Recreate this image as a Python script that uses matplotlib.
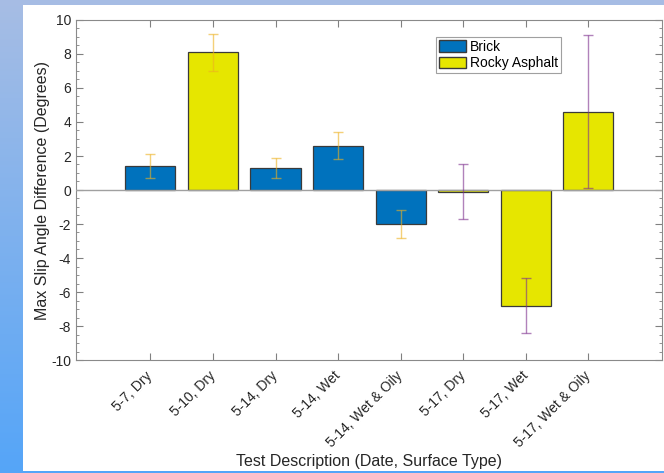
import matplotlib.pyplot as plt
import numpy as np
from matplotlib.patches import Rectangle, Patch
from matplotlib.ticker import MultipleLocator

plt.rcParams['font.family'] = ['Liberation Sans', 'DejaVu Sans']
plt.rcParams['axes.unicode_minus'] = False

# chart data
categories = ['5-7, Dry', '5-10, Dry', '5-14, Dry', '5-14, Wet',
              '5-14, Wet & Oily', '5-17, Dry', '5-17, Wet', '5-17, Wet & Oily']
surfaces = ['Brick', 'Rocky Asphalt', 'Brick', 'Brick',
            'Brick', 'Rocky Asphalt', 'Rocky Asphalt', 'Rocky Asphalt']
values = [1.4, 8.1, 1.3, 2.6, -2.0, -0.1, -6.8, 4.6]
errors = [0.7, 1.1, 0.6, 0.8, 0.8, 1.6, 1.6, 4.5]
err_group = [0, 0, 0, 0, 0, 1, 1, 1]

surface_colors = {'Brick': '#0072BD', 'Rocky Asphalt': '#E6E600'}
err_colors = ['#EDB120', '#7E2F8E']

W, H = 664, 473
fig = plt.figure(figsize=(W / 100, H / 100), dpi=100)

# blue gradient backdrop with white panel
bg = fig.add_axes([0, 0, 1, 1], zorder=-10)
grad = np.linspace(0, 1, 256)[:, None]
top = np.array([0xa7, 0xbd, 0xe4]) / 255
bot = np.array([0x55, 0xa5, 0xf8]) / 255
img = top[None, None, :] * (1 - grad[:, :, None]) + bot[None, None, :] * grad[:, :, None]
bg.imshow(img, aspect='auto', extent=[0, 1, 0, 1], origin='upper')
bg.add_patch(Rectangle((23 / W, (H - 471) / H), (W - 23) / W, (471 - 5) / H,
                       facecolor='white', edgecolor='none'))
bg.set_xlim(0, 1)
bg.set_ylim(0, 1)
bg.axis('off')

ax = fig.add_axes([76 / W, (H - 360) / H, (662 - 76) / W, (360 - 20) / H])
x = np.arange(1, len(categories) + 1)

for surf in ['Brick', 'Rocky Asphalt']:
    idx = [i for i, s in enumerate(surfaces) if s == surf]
    ax.bar(x[idx], [values[i] for i in idx], width=0.8,
           color=surface_colors[surf], edgecolor='#3a3a3a', linewidth=0.9, zorder=2)

ax.axhline(0, color='#a0a0a0', linewidth=1.0, zorder=3)

for g, col in enumerate(err_colors):
    idx = [i for i in range(len(values)) if err_group[i] == g]
    ax.errorbar(x[idx], [values[i] for i in idx], yerr=[errors[i] for i in idx],
                fmt='none', ecolor=col, elinewidth=1.0, capsize=3.5, alpha=0.6, zorder=4)

ax.set_xlim(-0.19, 9.18)
ax.set_ylim(-10, 10)
ax.set_xticks(x)
ax.set_xticklabels(categories, rotation=45, ha='right', va='center', rotation_mode='anchor')
ax.yaxis.set_major_locator(MultipleLocator(2))
ax.yaxis.set_minor_locator(MultipleLocator(0.5))
ax.tick_params(axis='both', which='both', direction='in', top=True, right=True,
               colors='#808080', labelcolor='#262626', labelsize=10)
ax.tick_params(which='major', length=5)
ax.tick_params(which='minor', length=2.5)
ax.tick_params(axis='x', pad=10)
for sp in ax.spines.values():
    sp.set_color('#8a8a8a')

ax.set_ylabel('Max Slip Angle Difference (Degrees)', fontsize=11.5, color='#262626', labelpad=1)
ax.set_xlabel('Test Description (Date, Surface Type)', fontsize=11.5, color='#262626', labelpad=3)

handles = [Patch(facecolor=surface_colors[s], edgecolor='#3a3a3a', label=s)
           for s in ['Brick', 'Rocky Asphalt']]
leg = ax.legend(handles=handles, loc='upper left', bbox_to_anchor=(0.614, 0.95),
                borderaxespad=0, fancybox=False, edgecolor='#a0a0a0', framealpha=1,
                fontsize=10, handlelength=2.0, handleheight=0.85, labelspacing=0.15,
                borderpad=0.2, handletextpad=0.25)
leg.get_frame().set_linewidth(0.8)

fig.savefig('out.png', dpi=100)
